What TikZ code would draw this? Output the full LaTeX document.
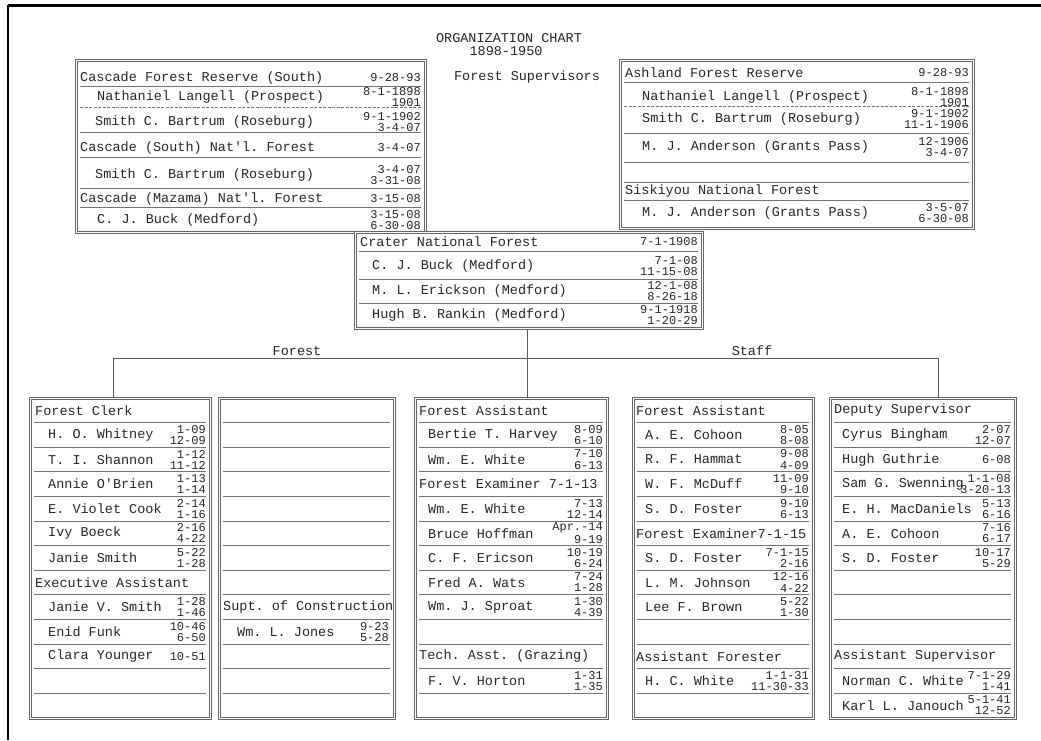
\documentclass[tikz,border=0pt]{standalone}
\usepackage{fontspec}
\setmonofont{Liberation Mono}
\usetikzlibrary{positioning}

\newcommand{\datepair}[2]{\shortstack[r]{#1\\#2}}

\tikzset{
  chartbox/.style={draw=black!60,line width=0.6pt,double=white,double distance=1.5pt,
    anchor=north west,inner sep=0pt},
  rowline/.style={draw=black!55,line width=0.7pt},
  hdr/.style={anchor=west,inner sep=0pt,text=black!85,
    font=\ttfamily\fontsize{13.5}{14}\selectfont},
  when/.style={anchor=east,inner sep=0pt,text=black!85,
    font=\ttfamily\fontsize{12}{12}\selectfont},
  link/.style={draw=black!65,line width=0.8pt}
}

\begin{document}
\begin{tikzpicture}[x=1pt,y=-1pt]
\useasboundingbox (0,0) rectangle (1041,740);
% frame of the sheet
\draw[line width=3pt](8,5)--(1041,5);
\draw[line width=2pt](8,5)--(8,740);
% title
\node[hdr,anchor=center](title) at (509,38){ORGANIZATION CHART};
\node[hdr,anchor=center](years) at (506,51){1898-1950};
\node[hdr,anchor=center](supv) at (527,77){Forest Supervisors};

% Cascade box
\node[chartbox,minimum width=349,minimum height=172](tl) at (76,60){};
\foreach \yy/\xx/\txt/\dt [count=\i] in {
  78/80/Cascade Forest Reserve (South)/9-28-93,
  97/97/Nathaniel Langell (Prospect)/\datepair{8-1-1898}{1901},
  122/95/Smith C. Bartrum (Roseburg)/\datepair{9-1-1902}{3-4-07},
  148/80/Cascade (South) Nat'l. Forest/3-4-07,
  175/95/Smith C. Bartrum (Roseburg)/\datepair{3-4-07}{3-31-08},
  199/80/Cascade (Mazama) Nat'l. Forest/3-15-08,
  220/97/C. J. Buck (Medford)/\datepair{3-15-08}{6-30-08}}{
  \node[hdr](tl-t\i) at (\xx,\yy){\txt};
  \node[when](tl-d\i) at (421,\yy){\dt};
}
\draw[rowline,dash pattern=on 3pt off 1.5pt](80,107)--(421,107);
\foreach \yy in {86,132,157,188,207}
  \draw[rowline](80,\yy)--(421,\yy);

% Ashland box
\node[chartbox,minimum width=353,minimum height=168](tr) at (620,60){};
\foreach \yy/\xx/\txt/\dt [count=\i] in {
  73/625/Ashland Forest Reserve/9-28-93,
  97/642/Nathaniel Langell (Prospect)/\datepair{8-1-1898}{1901},
  119/642/Smith C. Bartrum (Roseburg)/\datepair{9-1-1902}{11-1-1906},
  147/642/M. J. Anderson (Grants Pass)/\datepair{12-1906}{3-4-07},
  191/625/Siskiyou National Forest/{},
  213/642/M. J. Anderson (Grants Pass)/\datepair{3-5-07}{6-30-08}}{
  \node[hdr](tr-t\i) at (\xx,\yy){\txt};
  \node[when](tr-d\i) at (969,\yy){\dt};
}
\draw[rowline,dash pattern=on 3pt off 1.5pt](624,106)--(969,106);
\foreach \yy in {82,133,162,182,200}
  \draw[rowline](624,\yy)--(969,\yy);

% Crater box
\node[chartbox,minimum width=347,minimum height=96](cr) at (355,232){};
\foreach \yy/\xx/\txt/\dt [count=\i] in {
  242/360/Crater National Forest/7-1-1908,
  266/372/C. J. Buck (Medford)/\datepair{7-1-08}{11-15-08},
  291/372/M. L. Erickson (Medford)/\datepair{12-1-08}{8-26-18},
  315/372/Hugh B. Rankin (Medford)/\datepair{9-1-1918}{1-20-29}}{
  \node[hdr](cr-t\i) at (\xx,\yy){\txt};
  \node[when](cr-d\i) at (698,\yy){\dt};
}
\foreach \yy in {251,279,303}
  \draw[rowline](359,\yy)--(698,\yy);

% lower columns
\node[chartbox,minimum width=180,minimum height=320](c1) at (30,398){};
\node[chartbox,minimum width=175,minimum height=320](c2) at (219,398){};
\node[chartbox,minimum width=192,minimum height=320](c3) at (415,398){};
\node[chartbox,minimum width=180,minimum height=320](c4) at (633,398){};
\node[chartbox,minimum width=185,minimum height=320](c5) at (830,398){};
\foreach \k in {1,...,12}{
  \draw[rowline](34,398+\k*24.6)--(206,398+\k*24.6);
  \draw[rowline](223,398+\k*24.6)--(390,398+\k*24.6);
  \draw[rowline](419,398+\k*24.6)--(603,398+\k*24.6);
  \draw[rowline](637,398+\k*24.6)--(809,398+\k*24.6);
  \draw[rowline](834,398+\k*24.6)--(1011,398+\k*24.6);
}

% Forest Clerk column
\foreach \r/\txt in {1/Forest Clerk,8/Executive Assistant}
  \node[hdr](c1-h\r) at (35,{398+(\r-0.5)*24.6}){\txt};
\foreach \r/\txt/\dt in {
  2/H. O. Whitney/\datepair{1-09}{12-09},
  3/T. I. Shannon/\datepair{1-12}{11-12},
  4/Annie O'Brien/\datepair{1-13}{1-14},
  5/E. Violet Cook/\datepair{2-14}{1-16},
  6/Ivy Boeck/\datepair{2-16}{4-22},
  7/Janie Smith/\datepair{5-22}{1-28},
  9/Janie V. Smith/\datepair{1-28}{1-46},
  10/Enid Funk/\datepair{10-46}{6-50},
  11/Clara Younger/10-51}{
  \node[hdr](c1-n\r) at (48,{398+(\r-0.5)*24.6}){\txt};
  \node[when](c1-d\r) at (206,{398+(\r-0.5)*24.6}){\dt};
}

% Construction column
\node[hdr](c2-h9) at (223,{398+8.5*24.6}){Supt. of Construction};
\node[hdr](c2-n10) at (237,{398+9.5*24.6}){Wm. L. Jones};
\node[when](c2-d10) at (389,{398+9.5*24.6}){\datepair{9-23}{5-28}};

% Forest Assistant column
\foreach \r/\txt in {1/Forest Assistant,4/Forest Examiner 7-1-13,11/Tech. Asst. (Grazing)}
  \node[hdr](c3-h\r) at (419,{398+(\r-0.5)*24.6}){\txt};
\foreach \r/\txt/\dt in {
  2/Bertie T. Harvey/\datepair{8-09}{6-10},
  3/Wm. E. White/\datepair{7-10}{6-13},
  5/Wm. E. White/\datepair{7-13}{12-14},
  6/Bruce Hoffman/\datepair{Apr.-14}{9-19},
  7/C. F. Ericson/\datepair{10-19}{6-24},
  8/Fred A. Wats/\datepair{7-24}{1-28},
  9/Wm. J. Sproat/\datepair{1-30}{4-39},
  12/F. V. Horton/\datepair{1-31}{1-35}}{
  \node[hdr](c3-n\r) at (428,{398+(\r-0.5)*24.6}){\txt};
  \node[when](c3-d\r) at (603,{398+(\r-0.5)*24.6}){\dt};
}

% second Forest Assistant column
\foreach \r/\txt in {1/Forest Assistant,6/Forest Examiner7-1-15,11/Assistant Forester}
  \node[hdr](c4-h\r) at (636,{398+(\r-0.5)*24.6}){\txt};
\foreach \r/\txt/\dt in {
  2/A. E. Cohoon/\datepair{8-05}{8-08},
  3/R. F. Hammat/\datepair{9-08}{4-09},
  4/W. F. McDuff/\datepair{11-09}{9-10},
  5/S. D. Foster/\datepair{9-10}{6-13},
  7/S. D. Foster/\datepair{7-1-15}{2-16},
  8/L. M. Johnson/\datepair{12-16}{4-22},
  9/Lee F. Brown/\datepair{5-22}{1-30},
  12/H. C. White/\datepair{1-1-31}{11-30-33}}{
  \node[hdr](c4-n\r) at (645,{398+(\r-0.5)*24.6}){\txt};
  \node[when](c4-d\r) at (809,{398+(\r-0.5)*24.6}){\dt};
}

% Deputy Supervisor column
\foreach \r/\txt in {1/Deputy Supervisor,11/Assistant Supervisor}
  \node[hdr](c5-h\r) at (834,{398+(\r-0.5)*24.6}){\txt};
\foreach \r/\txt/\dt in {
  2/Cyrus Bingham/\datepair{2-07}{12-07},
  3/Hugh Guthrie/6-08,
  4/Sam G. Swenning/\datepair{1-1-08}{3-20-13},
  5/E. H. MacDaniels/\datepair{5-13}{6-16},
  6/A. E. Cohoon/\datepair{7-16}{6-17},
  7/S. D. Foster/\datepair{10-17}{5-29},
  12/Norman C. White/\datepair{7-1-29}{1-41},
  13/Karl L. Janouch/\datepair{5-1-41}{12-52}}{
  \node[hdr](c5-n\r) at (842,{398+(\r-0.5)*24.6}){\txt};
  \node[when](c5-d\r) at (1011,{398+(\r-0.5)*24.6}){\dt};
}

% connectors
\coordinate (barL) at (113,358);
\coordinate (barR) at (938,358);
\coordinate (drop) at (527,358);
\draw[link](barL |- c1.north)--(barL)--(barR)--(barR |- c5.north);
\draw[link](drop |- cr.south)--(drop |- c3.north);
\node[hdr,anchor=south,inner sep=1pt](forest) at (297,357){Forest};
\node[hdr,anchor=south,inner sep=1pt](staff) at (752,357){Staff};
\end{tikzpicture}
\end{document}
